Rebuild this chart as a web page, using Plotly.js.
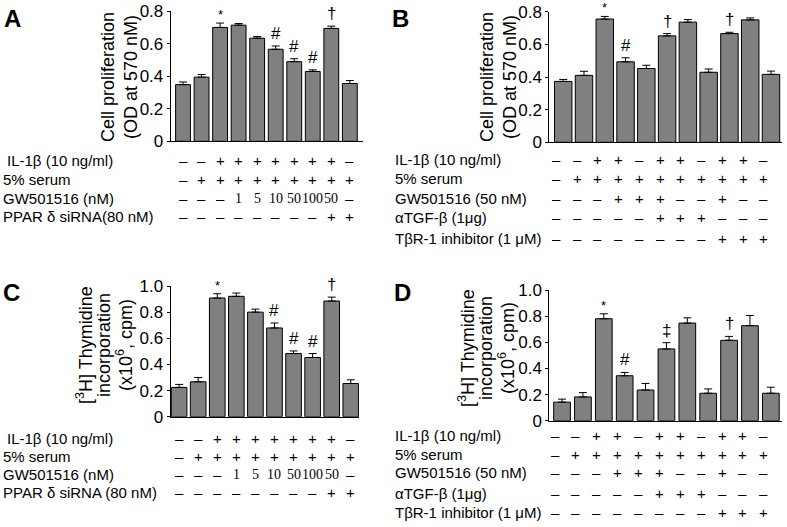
<!DOCTYPE html>
<html><head><meta charset="utf-8">
<script src="https://cdn.plot.ly/plotly-3.0.1.min.js"></script>
<style>html,body{margin:0;padding:0;background:#fff}#chart{width:787px;height:527px}</style>
</head><body><div id="chart"></div>
<script>
// ---------- data ----------
const valuesA = [0.348,0.394,0.699,0.713,0.633,0.565,0.489,0.429,0.693,0.355];
const errorsA = [0.016,0.016,0.027,0.010,0.010,0.020,0.018,0.010,0.014,0.018];
const marksA  = ["","","*","","","#","#","#","†",""];

const valuesB = [0.373,0.410,0.755,0.493,0.452,0.652,0.736,0.429,0.666,0.750,0.416];
const errorsB = [0.012,0.025,0.016,0.025,0.020,0.014,0.016,0.020,0.008,0.012,0.020];
const marksB  = ["","","*","#","","†","","","†","",""];

const valuesC = [0.224,0.267,0.908,0.921,0.800,0.679,0.483,0.453,0.885,0.254];
const errorsC = [0.023,0.033,0.033,0.025,0.023,0.038,0.020,0.030,0.030,0.028];
const marksC  = ["","","*","","","#","#","#","†",""];

const valuesD = [0.142,0.182,0.780,0.344,0.235,0.549,0.747,0.210,0.615,0.727,0.210];
const errorsD = [0.023,0.033,0.038,0.025,0.050,0.048,0.040,0.033,0.030,0.078,0.046];
const marksD  = ["","","*","#","","‡","","","†","",""];

const ticksOD  = [0,0.2,0.4,0.6,0.8];
const tickTextOD = ["0","0.2","0.4","0.6","0.8"];
const ticksThy = [0,0.2,0.4,0.6,0.8,1.0];
const tickTextThy = ["0","0.2","0.4","0.6","0.8","1.0"];

const titleOD  = ["Cell proliferation", "(OD at 570 nM)"];
const titleThy = ["[<sup>3</sup>H] Thymidine", "incorporation", "(x10<sup>6</sup>, cpm)"];

// condition rows, panels A and C
const rowIL_AC    = ["–","–","+","+","+","+","+","+","+","–"];
const rowSerum_AC = ["–","+","+","+","+","+","+","+","+","+"];
const rowGW_AC    = ["–","–","–","1","5","10","50","100","50","–"];
const rowSi_AC    = ["–","–","–","–","–","–","–","–","+","+"];
// condition rows, panels B and D
const rowIL_BD    = ["–","–","+","+","–","+","+","–","+","+","–"];
const rowSerum_BD = ["–","+","+","+","+","+","+","+","+","+","+"];
const rowGW_BD    = ["–","–","–","+","+","+","–","–","+","–","–"];
const rowTGF_BD   = ["–","–","–","–","–","+","+","+","–","–","–"];
const rowTbR_BD   = ["–","–","–","–","–","–","–","–","+","+","+"];

const labelsA = [" IL-1β (10 ng/ml)","5% serum","GW501516 (nM)","PPAR δ siRNA(80 nM)"];
const labelsC = [" IL-1β (10 ng/ml)","5% serum","GW501516 (nM)","PPAR δ siRNA (80 nM)"];
const labelsBD = ["IL-1β (10 ng/ml)","5% serum","GW501516 (50 nM)","αTGF-β (1μg)","TβR-1 inhibitor (1 μM)"];

const panelLetters = ["A","B","C","D"];

// ---------- layout helpers ----------
const W = 787, H = 527;
const px = x => x / W;
const py = y => 1 - y / H;
const SANS = "Liberation Sans, Arial, Helvetica, sans-serif";
const SERIF = "Liberation Serif, Times New Roman, serif";

function barTrace(vals, errs, xa, ya, w) {
  return {
    type: "bar",
    x: vals.map((_, i) => i),
    y: vals,
    xaxis: xa, yaxis: ya,
    width: w,
    marker: {color: "#808080", line: {color: "#000", width: 1}},
    error_y: {type: "data", symmetric: false, array: errs, arrayminus: errs.map(() => 0),
              color: "#000", thickness: 1, width: 4},
    showlegend: false, hoverinfo: "none"
  };
}

const data = [
  barTrace(valuesA, errorsA, "x", "y", 0.8),
  barTrace(valuesB, errorsB, "x2", "y2", 0.84),
  barTrace(valuesC, errorsC, "x3", "y3", 0.82),
  barTrace(valuesD, errorsD, "x4", "y4", 0.8)
];

const annotations = [];
function addMarks(marks, vals, errs, xr, yr) {
  marks.forEach((m, i) => {
    if (!m) return;
    annotations.push({x: i, y: vals[i] + errs[i], xref: xr, yref: yr, text: m,
      showarrow: false, yanchor: "bottom", yshift: m === "*" ? -1 : 1,
      font: {family: SANS, size: m === "*" ? 13 : 17, color: "#000"}});
  });
}
addMarks(marksA, valuesA, errorsA, "x", "y");
addMarks(marksB, valuesB, errorsB, "x2", "y2");
addMarks(marksC, valuesC, errorsC, "x3", "y3");
addMarks(marksD, valuesD, errorsD, "x4", "y4");

function addRows(rows, labels, rowYs, xr, labelX, xshift) {
  rows.forEach((row, r) => {
    const lab = labels[r];
    annotations.push({x: px(labelX), y: py(rowYs[r]), xref: "paper", yref: "paper",
      text: lab.trim(), xanchor: "left", yanchor: "middle", showarrow: false,
      xshift: lab.startsWith(" ") ? 4 : 0,
      font: {family: SANS, size: 15, color: "#000"}});
    row.forEach((s, i) => {
      const numeric = /\d/.test(s);
      annotations.push({x: i, y: py(rowYs[r]), xref: xr, yref: "paper", text: s,
        xanchor: "center", yanchor: "middle", showarrow: false, xshift: xshift,
        font: {family: numeric ? SERIF : SANS, size: numeric ? 14 : 15, color: "#000"}});
    });
  });
}
addRows([rowIL_AC, rowSerum_AC, rowGW_AC, rowSi_AC], labelsA, [161, 179.5, 198, 216], "x", 1, 0);
addRows([rowIL_BD, rowSerum_BD, rowGW_BD, rowTGF_BD, rowTbR_BD], labelsBD, [159.5, 178.5, 198, 218, 238], "x2", 393, -7);
addRows([rowIL_AC, rowSerum_AC, rowGW_AC, rowSi_AC], labelsC, [438.5, 456, 474, 492], "x3", 1, 0);
addRows([rowIL_BD, rowSerum_BD, rowGW_BD, rowTGF_BD, rowTbR_BD], labelsBD, [435.5, 454, 472.5, 493, 512.5], "x4", 393, -7);

// y-axis titles (one rotated line each)
function addTitle(lines, xs, yc) {
  lines.forEach((t, i) => {
    annotations.push({x: px(xs[i]), y: py(yc), xref: "paper", yref: "paper", text: t,
      textangle: -90, xanchor: "center", yanchor: "middle", showarrow: false,
      font: {family: SANS, size: 18, color: "#000"}});
  });
}
addTitle(titleOD, [108, 131], 77);
addTitle(titleOD, [487, 510], 77);
addTitle(titleThy, [84, 104, 124], 345);
addTitle(titleThy, [466, 486, 506], 348);

const letterPos = [[12, 19], [401, 18], [11, 292], [402, 292]];
panelLetters.forEach((t, k) => {
  annotations.push({x: px(letterPos[k][0]), y: py(letterPos[k][1]), xref: "paper", yref: "paper",
    text: t, showarrow: false, xanchor: "center", yanchor: "middle",
    font: {family: SANS, size: 24, color: "#000", weight: "bold"}});
});

function xAxis(d0, d1, r0, r1, anchor) {
  return {domain: [px(d0), px(d1)], range: [r0, r1], anchor: anchor, showline: true,
    linecolor: "#000", linewidth: 1, showticklabels: false, ticks: "", showgrid: false,
    zeroline: false, fixedrange: true};
}
function yAxis(top, bottom, rmax, tv, tt, anchor) {
  return {domain: [py(bottom), py(top)], range: [0, rmax], anchor: anchor, showline: true,
    linecolor: "#000", linewidth: 1, ticks: "outside", ticklen: 3, tickcolor: "#000",
    tickvals: tv, ticktext: tt, showgrid: false, zeroline: false, fixedrange: true,
    tickfont: {family: SANS, size: 17, color: "#000"}};
}

const layout = {
  width: W, height: H, margin: {l: 0, r: 0, t: 0, b: 0},
  paper_bgcolor: "#fff", plot_bgcolor: "#fff", showlegend: false,
  font: {family: SANS, color: "#000"},
  xaxis:  xAxis(170.7, 363, -0.665, 9.71, "y"),
  yaxis:  yAxis(11, 141.3, 0.8, ticksOD, tickTextOD, "x"),
  xaxis2: xAxis(549.3, 782, -0.67, 10.53, "y2"),
  yaxis2: yAxis(11.7, 142.3, 0.8, ticksOD, tickTextOD, "x2"),
  xaxis3: xAxis(170.5, 359, -0.45, 9.43, "y3"),
  yaxis3: yAxis(286, 416.7, 1.0, ticksThy, tickTextThy, "x3"),
  xaxis4: xAxis(549.3, 781.7, -0.61, 10.52, "y4"),
  yaxis4: yAxis(290, 420.7, 1.0, ticksThy, tickTextThy, "x4"),
  annotations: annotations
};

Plotly.newPlot("chart", data, layout, {displayModeBar: false, staticPlot: true});
</script>
</body></html>
